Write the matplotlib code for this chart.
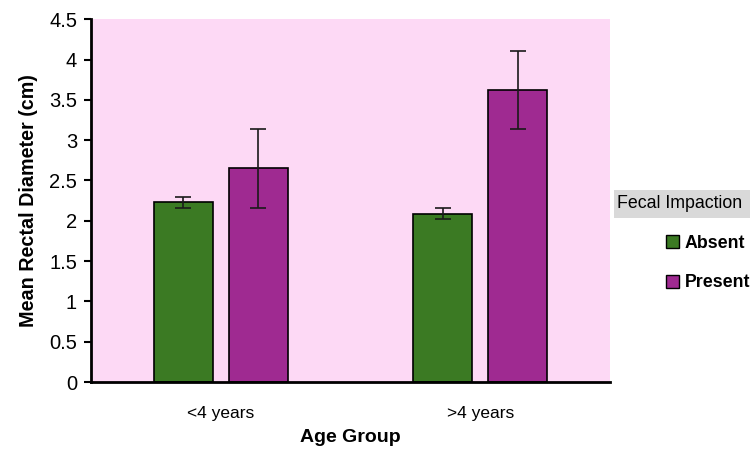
import numpy as np
import matplotlib
matplotlib.use('Agg')
import matplotlib.pyplot as plt
from matplotlib.patches import Patch, Rectangle

plt.rcParams['font.family'] = ['Liberation Sans', 'DejaVu Sans']

groups = ['<4 years', '>4 years']
series = ['Absent', 'Present']
absent_mean = [2.23, 2.09]
absent_err = [0.07, 0.07]
present_mean = [2.65, 3.62]
present_err = [0.49, 0.48]

colors = {'Absent': '#3b7a23', 'Present': '#9f2a91'}

fig = plt.figure(figsize=(7.5, 4.57), dpi=100)
ax = fig.add_axes([0.1213, 0.164, 0.692, 0.794])
ax.set_facecolor('#fdd9f5')

x = np.arange(len(groups))
w = 0.227
off = 0.145
ax.bar(x - off, absent_mean, w, yerr=absent_err, color=colors['Absent'],
       edgecolor='black', linewidth=1.2, capsize=6,
       error_kw=dict(elinewidth=1.2, capthick=1.2, ecolor='#1a1a1a'))
ax.bar(x + off, present_mean, w, yerr=present_err, color=colors['Present'],
       edgecolor='black', linewidth=1.2, capsize=6,
       error_kw=dict(elinewidth=1.2, capthick=1.2, ecolor='#1a1a1a'))

ax.set_xlim(-0.5, 1.5)
ax.set_ylim(0, 4.5)
ax.set_yticks(np.arange(0, 4.51, 0.5))
ax.set_yticklabels(['0', '0.5', '1', '1.5', '2', '2.5', '3', '3.5', '4', '4.5'])
ax.set_xticks(x)
ax.set_xticklabels(groups)
ax.tick_params(axis='x', length=0, labelsize=12.5, pad=17)
ax.tick_params(axis='y', length=5, width=1.5, labelsize=14.5, pad=5)
for s in ['top', 'right']:
    ax.spines[s].set_visible(False)
for s in ['left', 'bottom']:
    ax.spines[s].set_linewidth(2)

ax.set_xlabel('Age Group', fontsize=14, fontweight='bold', labelpad=6)
ax.set_ylabel('Mean Rectal Diameter (cm)', fontsize=14.2, fontweight='bold', labelpad=8)

# legend title box
fig.patches.append(Rectangle((614 / 750, 1 - 218 / 457), 136 / 750, 28 / 457,
                             transform=fig.transFigure, facecolor='#d9d9d9',
                             edgecolor='none'))
fig.text(617 / 750, 1 - 204 / 457, 'Fecal Impaction', fontsize=12.8,
         va='center', ha='left')

handles = [Patch(facecolor=colors[s], edgecolor='black', label=s) for s in series]
leg = fig.legend(handles=handles, loc='upper left', bbox_to_anchor=(650 / 750, 1 - 219 / 457),
                 frameon=False, handlelength=0.75, handleheight=0.75, handletextpad=0.3,
                 labelspacing=1.25, prop={'weight': 'bold', 'size': 12.8})

fig.savefig('out.png', dpi=100)
